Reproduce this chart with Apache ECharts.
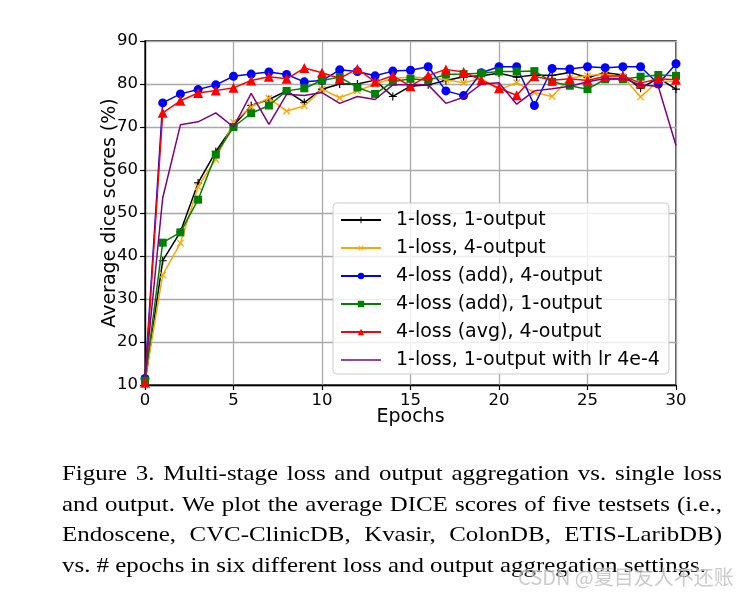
<!DOCTYPE html>
<html>
<head>
<meta charset="utf-8">
<script src="https://cdn.jsdelivr.net/npm/echarts@6/dist/echarts.min.js"></script>
<style>
html,body{margin:0;padding:0;background:#fff;}
#chart{width:750px;height:594px;}
</style>
</head>
<body>
<div id="chart"></div>
<script>
// ---- data ----
const epochs = [0,1,2,3,4,5,6,7,8,9,10,11,12,13,14,15,16,17,18,19,20,21,22,23,24,25,26,27,28,29,30];
const seriesNames = ['1-loss, 1-output','1-loss, 4-output','4-loss (add), 4-output','4-loss (add), 1-output','4-loss (avg), 4-output','1-loss, 1-output with lr 4e-4'];
const loss1out1 = [10.5,38.9,45.6,57.0,64.3,70.3,75.0,76.4,78.4,75.7,78.8,80.0,80.0,80.9,77.1,79.5,79.8,80.8,81.7,81.9,82.5,81.6,82.1,82.0,82.7,81.5,82.6,82.1,79.0,81.4,78.8];
const loss1out4 = [11.0,35.6,43.0,56.1,62.5,71.1,74.7,76.7,73.7,74.9,78.8,76.8,78.4,80.0,81.3,81.6,81.4,81.0,80.3,81.3,78.7,80.3,78.0,77.1,81.4,81.9,82.3,81.7,77.0,80.7,80.5];
const loss4addOut4 = [11.5,75.6,77.7,78.7,79.8,81.8,82.3,82.8,82.2,80.5,80.8,83.3,82.9,81.9,83.0,83.2,84.0,78.4,77.3,82.6,84.0,84.0,75.0,83.6,83.5,84.0,83.8,84.0,84.0,80.0,84.7];
const loss4addOut1 = [11.0,43.1,45.5,53.1,63.6,70.0,73.2,75.0,78.4,79.0,80.8,81.6,79.2,77.7,80.5,81.2,80.9,82.2,82.3,82.5,82.9,82.9,83.0,80.5,79.6,78.8,81.1,81.1,81.7,82.1,81.9];
const loss4avgOut4 = [10.5,73.3,76.1,77.9,78.5,79.1,80.8,81.7,81.2,83.7,82.6,81.3,83.5,80.5,81.9,79.5,82.0,83.4,82.8,80.9,79.0,77.4,81.8,80.9,81.2,80.8,81.8,81.9,80.2,81.2,81.0];
const loss1out1lr = [12.0,53.5,70.5,71.2,73.3,70.0,77.8,70.6,77.6,77.3,78.0,75.5,77.1,76.4,79.8,79.8,79.8,75.5,76.9,80.0,80.3,75.3,78.4,78.9,79.5,80.5,81.3,81.3,79.8,79.4,65.7];
const xTicks = [0,5,10,15,20,25,30];
const yTicks = [10,20,30,40,50,60,70,80,90];
const captionLines = [
  'Figure 3. Multi-stage loss and output aggregation vs.  single loss',
  'and output. We plot the average DICE scores of five testsets (i.e.,',
  'Endoscene,  CVC-ClinicDB,  Kvasir,  ColonDB,  ETIS-LaribDB)',
  'vs. # epochs in six different loss and output aggregation settings.'
];
const watermark = 'CSDN @夏目友人不还账';

// ---- build ----
const allValues = [loss1out1, loss1out4, loss4addOut4, loss4addOut1, loss4avgOut4, loss1out1lr];
const colors = ['#000000','#ffa500','#0000ff','#008000','#ff0000','#800080'];
const plusPath = 'path://M4.3,0H5.7V4.3H10V5.7H5.7V10H4.3V5.7H0V4.3H4.3Z';
const symbols = [plusPath, plusPath, 'circle', 'rect', 'triangle', 'none'];
const symbolSizes = [8, 9, 9, 8, 10, 0];
const symbolRotates = [0, 45, 0, 0, 0, 0];

const series = allValues.map((vals, i) => ({
  name: seriesNames[i],
  type: 'line',
  data: epochs.map((e, j) => [e, vals[j]]),
  symbol: symbols[i],
  symbolSize: symbolSizes[i],
  symbolRotate: symbolRotates[i],
  showSymbol: symbols[i] !== 'none',
  lineStyle: {color: colors[i], width: 1.5},
  itemStyle: {color: colors[i], borderWidth: 0},
  emphasis: {disabled: true},
  z: 2 + i
}));

const legendData = seriesNames.map((n, i) => symbols[i] === 'none'
  ? {name: n, icon: 'path://M0,0H40V1.5H0Z'}
  : {name: n});

// caption graphic (justified, slightly wide serif)
const capFont = '"Liberation Serif", "Times New Roman", serif';
const capSize = 21.5;
const capLeft = 62, capRight = 722, lastRight = 706;
const capBaselines = [485, 516, 546, 577];
const ctx = document.createElement('canvas').getContext('2d');
ctx.font = capSize + 'px ' + capFont;
const lastW = ctx.measureText(captionLines[captionLines.length - 1]).width;
const sx = (lastRight - capLeft) / lastW;
const graphics = [];
captionLines.forEach((line, i) => {
  const words = line.split(/\s+/);
  const widths = words.map(w => ctx.measureText(w).width * sx);
  const total = widths.reduce((a, b) => a + b, 0);
  const justify = i < captionLines.length - 1;
  const gap = justify ? (capRight - capLeft - total) / (words.length - 1) : ctx.measureText(' ').width * sx;
  let x = capLeft;
  words.forEach((w, j) => {
    graphics.push({
      type: 'text', silent: true, x: x, y: capBaselines[i], scaleX: sx, scaleY: 1,
      style: {text: w, x: 0, y: 0, fill: '#000', fontSize: capSize, fontFamily: capFont, textAlign: 'left', textVerticalAlign: 'bottom'}
    });
    x += widths[j] + gap;
  });
});
graphics.push({
  type: 'text', silent: true,
  style: {text: watermark, x: 518, y: 577, fill: 'rgba(175,175,175,0.65)', stroke: 'rgba(255,255,255,0.6)', lineWidth: 1,
    fontSize: 20, fontFamily: '"Noto Sans CJK SC", sans-serif', textAlign: 'left', textVerticalAlign: 'middle'}
});

const chart = echarts.init(document.getElementById('chart'), null, {renderer: 'canvas'});
chart.setOption({
  animation: false,
  backgroundColor: '#fff',
  textStyle: {fontFamily: 'DejaVu Sans'},
  grid: {left: 145, right: 74, top: 41, bottom: 209, show: true, borderColor: '#000', borderWidth: 1.3, backgroundColor: 'transparent', containLabel: false},
  xAxis: {
    type: 'value', min: xTicks[0], max: xTicks[xTicks.length - 1], interval: xTicks[1] - xTicks[0],
    name: 'Epochs', nameLocation: 'middle', nameGap: 23, nameMoveOverlap: false,
    nameTextStyle: {fontSize: 19, color: '#000', fontFamily: 'DejaVu Sans'},
    axisLine: {show: true, onZero: false, lineStyle: {color: '#000', width: 1.3}},
    axisTick: {show: true, length: 5, lineStyle: {color: '#000', width: 1.2}},
    axisLabel: {fontSize: 16.5, color: '#000', margin: 7, fontFamily: 'DejaVu Sans'},
    splitLine: {show: true, lineStyle: {color: '#a8a8a8', width: 1.3}}
  },
  yAxis: {
    type: 'value', min: yTicks[0], max: yTicks[yTicks.length - 1], interval: yTicks[1] - yTicks[0],
    name: 'Average dice scores (%)', nameLocation: 'middle', nameGap: 25, nameRotate: 90, nameMoveOverlap: false,
    nameTextStyle: {fontSize: 19, color: '#000', fontFamily: 'DejaVu Sans'},
    axisLine: {show: true, onZero: false, lineStyle: {color: '#000', width: 1.3}},
    axisTick: {show: true, length: 5, lineStyle: {color: '#000', width: 1.2}},
    axisLabel: {fontSize: 16.5, color: '#000', margin: 7, fontFamily: 'DejaVu Sans'},
    splitLine: {show: true, lineStyle: {color: '#a8a8a8', width: 1.3}}
  },
  legend: {
    data: legendData,
    orient: 'vertical',
    left: 333, top: 203,
    itemWidth: 40, itemHeight: 8, itemGap: 8,
    padding: [7, 9, 4, 7],
    backgroundColor: 'rgba(255,255,255,0.8)',
    borderColor: '#cccccc', borderWidth: 1, borderRadius: 4,
    textStyle: {fontSize: 19, lineHeight: 20, color: '#000', fontFamily: 'DejaVu Sans', padding: [0, 0, 0, 10]},
    selectedMode: false
  },
  series: series,
  graphic: graphics
});
</script>
</body>
</html>
